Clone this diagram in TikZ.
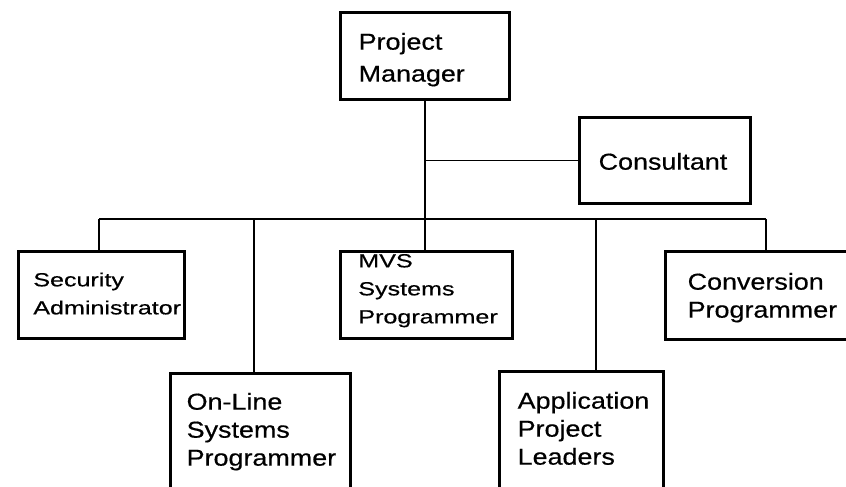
\documentclass[tikz,border=0pt]{standalone}
\usepackage{fontspec}
\newfontfamily\bigfont[FakeStretch=1.17,FakeBold=0.5]{Liberation Sans}
\newfontfamily\smallfont[FakeStretch=1.32,FakeBold=0.5]{Liberation Sans}
\hyphenpenalty=10000

\begin{document}
\begin{tikzpicture}[x=1pt,y=-1pt,
  post/.style={draw,rectangle,anchor=north west,inner ysep=0pt,align=left,
    line width=3.3pt,font=\bigfont\fontsize{23}{28}\selectfont},
  smallpost/.style={post,line width=2.7pt,font=\smallfont\fontsize{19}{28}\selectfont},
  link/.style={line width=1.4pt}]
  \useasboundingbox (0,0) rectangle (846,487);

  % top of the chart
  \node[post,font=\bigfont\fontsize{23}{32}\selectfont,inner xsep=18pt,text width=133pt,
        text height=37pt,text depth=50pt] (pm) at (339,11) {Project\\Manager};
  \node[post,inner xsep=19pt,text width=133pt,text height=52pt,text depth=34pt]
        (cons) at (578,116) {Consultant};

  % first row
  \node[smallpost,inner xsep=15pt,text width=136pt,text height=35pt,text depth=52pt]
        (sec) at (17,250) {Security\\Administrator};
  \node[smallpost,inner xsep=18pt,text width=136pt,text height=16pt,text depth=71pt]
        (mvs) at (339,250) {MVS\\Systems\\Programmer};
  \node[post,inner xsep=22pt,text width=162pt,text height=38pt,text depth=50pt]
        (conv) at (664,250) {Conversion\\Programmer};

  % second row
  \node[post,inner xsep=16pt,text width=148pt,text height=36pt,text depth=102pt]
        (onl) at (169,372) {On-Line\\Systems\\Programmer};
  \node[post,inner xsep=18pt,text width=128pt,text height=37pt,text depth=103pt]
        (app) at (498,370) {Application\\Project\\Leaders};

  % the bus
  \coordinate (bus1) at (99,219);
  \coordinate (bus2) at (254,219);
  \coordinate (bus3) at (pm.south |- bus1);
  \coordinate (bus4) at (596,219);
  \coordinate (bus5) at (766,219);
  \coordinate (jc)   at (pm.south |- cons.west);

\path (pm.south) edge [link] (bus3)
      (jc)       edge [link] (cons)
      (bus1)     edge [link] (bus5)
      (bus1)     edge [link] (bus1 |- sec.north)
      (bus2)     edge [link] (bus2 |- onl.north)
      (bus3)     edge [link] (bus3 |- mvs.north)
      (bus4)     edge [link] (bus4 |- app.north)
      (bus5)     edge [link] (bus5 |- conv.north);
\end{tikzpicture}
\end{document}
